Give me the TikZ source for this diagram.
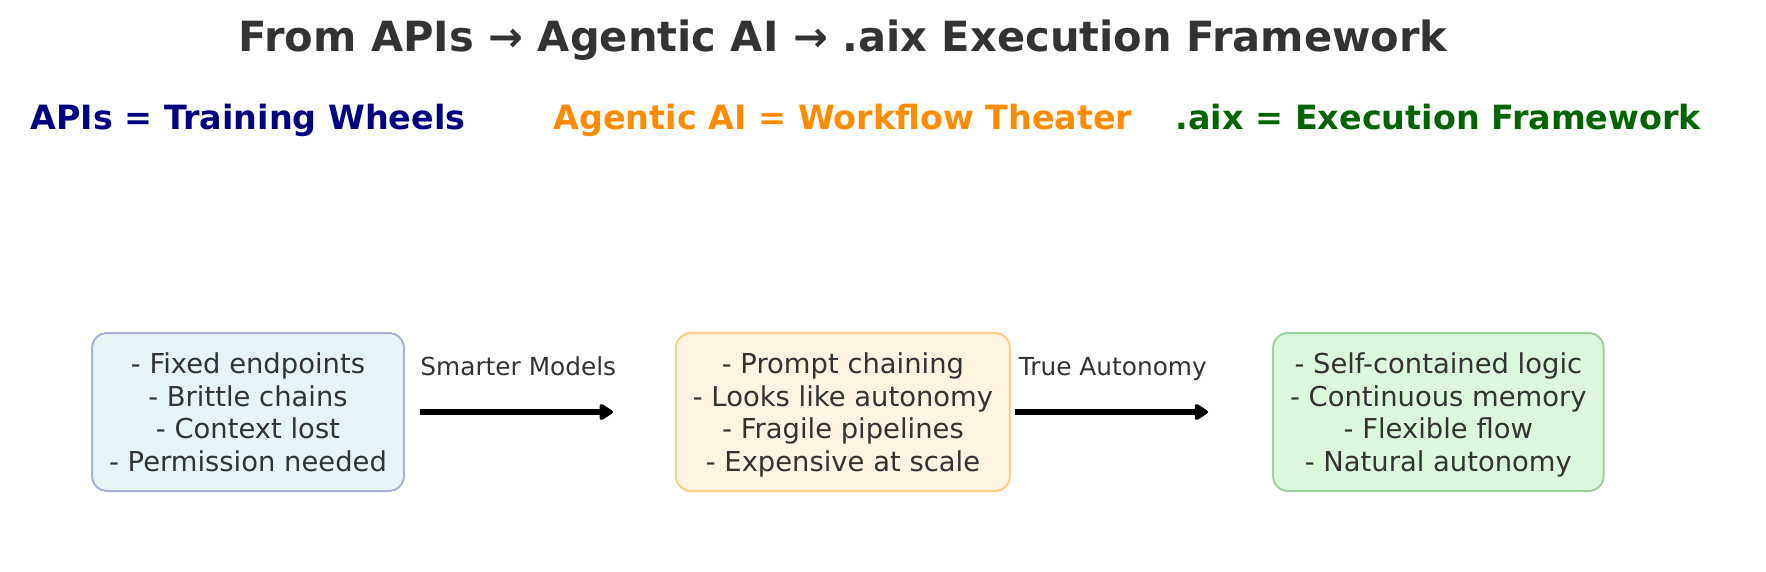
\documentclass[tikz,border=0pt]{standalone}
\usepackage{fontspec}
\setmainfont{DejaVu Sans}
\usetikzlibrary{positioning}
\usetikzlibrary{arrows.meta}

\definecolor{textgray}{HTML}{333333}
\definecolor{apisblue}{HTML}{000080}
\definecolor{agenticorange}{HTML}{FF8C00}
\definecolor{aixgreen}{HTML}{006400}
\definecolor{apisfill}{HTML}{E6F4F8}
\definecolor{apisedge}{HTML}{A8B0DA}
\definecolor{agenticfill}{HTML}{FFF3E2}
\definecolor{agenticedge}{HTML}{FFCC8A}
\definecolor{aixfill}{HTML}{DCF8DC}
\definecolor{aixedge}{HTML}{9FCF9F}

\begin{document}
\begin{tikzpicture}[x=0.5pt, y=-0.5pt, node distance=135pt,
    stage/.style={draw, rounded corners=7.5pt, line width=1pt, align=center,
      inner xsep=8.5pt, minimum height=79pt, text depth=0pt, text=textgray,
      font=\fontsize{13.7}{16.2}\selectfont},
    heading/.style={font=\fontsize{16.7}{20}\selectfont\bfseries},
    arrowlabel/.style={text=textgray, anchor=base, font=\fontsize{12.4}{15}\selectfont},
    flow/.style={-{Triangle[length=7.5pt,width=9pt,round]}, line width=2.8pt}]
    \useasboundingbox (0,0) rectangle (1766,572);

    \node[font=\fontsize{20.8}{24}\selectfont\bfseries, text=textgray, anchor=base] (title) at (843,51.5) {From APIs → Agentic AI → .aix Execution Framework};

    \node[stage, fill=apisfill, draw=apisedge] (apis) at (248,412) {- Fixed endpoints\\- Brittle chains\\- Context lost\\- Permission needed};
    \node[stage, fill=agenticfill, draw=agenticedge, right=of apis] (agentic) {- Prompt chaining\\- Looks like autonomy\\- Fragile pipelines\\- Expensive at scale};
    \node[stage, fill=aixfill, draw=aixedge, right=130.5pt of agentic] (aix) {- Self-contained logic\\- Continuous memory\\- Flexible flow\\- Natural autonomy};

    \node[heading, text=apisblue, above=101.3pt of apis.north, anchor=base] (apishead) {APIs = Training Wheels};
    \node[heading, text=agenticorange, above=101.3pt of agentic.north, anchor=base] (agentichead) {Agentic AI = Workflow Theater};
    \node[heading, text=aixgreen, above=101.3pt of aix.north, anchor=base] (aixhead) {.aix = Execution Framework};

    \draw[flow, shorten <=7.5pt, shorten >=31pt] (apis) -- node[arrowlabel, pos=.42, yshift=18.3pt] {Smarter Models} (agentic);
    \draw[flow, shorten <=2pt, shorten >=32pt] (agentic) -- node[arrowlabel, pos=.39, yshift=18.3pt] {True Autonomy} (aix);
\end{tikzpicture}
\end{document}
